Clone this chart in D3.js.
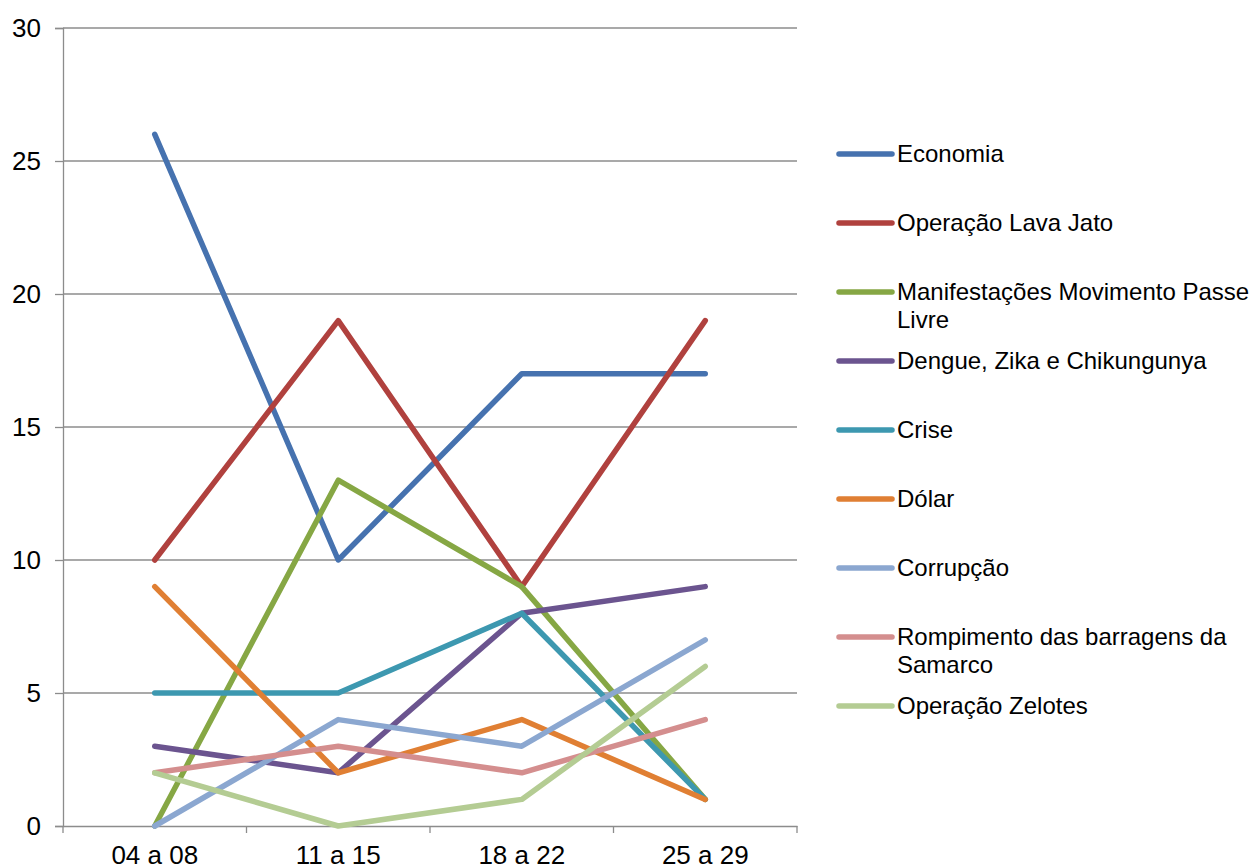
<!DOCTYPE html>
<html>
<head>
<meta charset="utf-8">
<script src="https://cdn.jsdelivr.net/npm/d3@7"></script>
<style>
  body { margin: 0; background: #fff; }
  text { font-family: "Liberation Sans", Arial, sans-serif; }
</style>
</head>
<body>
<div id="chart"></div>
<script>
// Semanas (categorias do eixo x)
const semanas = ["04 a 08", "11 a 15", "18 a 22", "25 a 29"];

// Séries
const economia = [26, 10, 17, 17];
const lavaJato = [10, 19, 9, 19];
const passeLivre = [0, 13, 9, 1];
const dengue = [3, 2, 8, 9];
const crise = [5, 5, 8, 1];
const dolar = [9, 2, 4, 1];
const corrupcao = [0, 4, 3, 7];
const samarco = [2, 3, 2, 4];
const zelotes = [2, 0, 1, 6];

const nomes = [
  ["Economia"],
  ["Operação Lava Jato"],
  ["Manifestações Movimento Passe", "Livre"],
  ["Dengue, Zika e Chikungunya"],
  ["Crise"],
  ["Dólar"],
  ["Corrupção"],
  ["Rompimento das barragens da", "Samarco"],
  ["Operação Zelotes"]
];
const valores = [economia, lavaJato, passeLivre, dengue, crise, dolar, corrupcao, samarco, zelotes];
const cores = ["#4672AF", "#B0413E", "#86A744", "#6B548F", "#3D98B0", "#E07F33", "#8BA7D0", "#D48E8E", "#B4CC93"];
const yTicks = [0, 5, 10, 15, 20, 25, 30];

const W = 1251, H = 867;
const svg = d3.select("#chart").append("svg")
  .attr("width", W).attr("height", H);

const margemEsq = 63, margemDir = 797, margemSup = 28, margemInf = 826;
const fonteEixo = 26, fonteLegenda = 24;

const x = d3.scaleBand().domain(semanas).range([margemEsq, margemDir]);
const y = d3.scaleLinear().domain([0, 30]).range([margemInf, margemSup]);

// Linhas de grade
svg.append("g").selectAll("line")
  .data(yTicks.filter(d => d > 0))
  .join("line")
  .attr("x1", margemEsq).attr("x2", margemDir)
  .attr("y1", d => y(d)).attr("y2", d => y(d))
  .attr("stroke", "#8c8c8c").attr("stroke-width", 1.3);

// Eixo y
const yAxis = svg.append("g")
  .attr("transform", `translate(${margemEsq},0)`)
  .call(d3.axisLeft(y).tickValues(yTicks).tickSize(8).tickPadding(14));
yAxis.select(".domain").attr("stroke", "#8c8c8c").attr("stroke-width", 1.3);
yAxis.selectAll(".tick line").attr("stroke", "#8c8c8c").attr("stroke-width", 1.3);
yAxis.selectAll("text").style("font-size", fonteEixo + "px").attr("fill", "#000");

// Eixo x
const xAxis = svg.append("g")
  .attr("transform", `translate(0,${margemInf})`)
  .call(d3.axisBottom(x).tickSize(0).tickPadding(20));
xAxis.select(".domain").attr("stroke", "#8c8c8c").attr("stroke-width", 1.3);
xAxis.selectAll("text").style("font-size", fonteEixo + "px").attr("fill", "#000");
// Marcas entre categorias
const fronteiras = semanas.map(s => x(s)).concat([x(semanas[semanas.length - 1]) + x.bandwidth()]);
svg.append("g").selectAll("line")
  .data(fronteiras)
  .join("line")
  .attr("x1", d => d).attr("x2", d => d)
  .attr("y1", margemInf).attr("y2", margemInf + 7)
  .attr("stroke", "#8c8c8c").attr("stroke-width", 1.3);

// Linhas das séries
const linha = d3.line()
  .x((d, i) => x(semanas[i]) + x.bandwidth() / 2)
  .y(d => y(d));

svg.append("g").selectAll("path")
  .data(valores)
  .join("path")
  .attr("d", d => linha(d))
  .attr("fill", "none")
  .attr("stroke", (d, i) => cores[i])
  .attr("stroke-width", 5.5)
  .attr("stroke-linejoin", "round")
  .attr("stroke-linecap", "round");

// Legenda
const legendaY0 = 154, passo = 69;
const leg = svg.append("g").selectAll("g")
  .data(nomes)
  .join("g")
  .attr("transform", (d, i) => `translate(0,${legendaY0 + i * passo})`);
leg.append("line")
  .attr("x1", 839).attr("x2", 892)
  .attr("y1", 0).attr("y2", 0)
  .attr("stroke", (d, i) => cores[i])
  .attr("stroke-width", 5.5)
  .attr("stroke-linecap", "round");
leg.each(function(d) {
  const t = d3.select(this).append("text")
    .attr("x", 897).attr("y", 8)
    .style("font-size", fonteLegenda + "px").attr("fill", "#000");
  d.forEach((linhaTxt, j) => {
    t.append("tspan").attr("x", 897).attr("dy", j === 0 ? 0 : 28).text(linhaTxt);
  });
});
</script>
</body>
</html>
